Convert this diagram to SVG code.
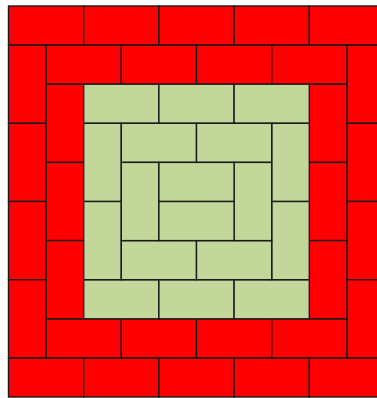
<svg xmlns="http://www.w3.org/2000/svg" width="377" height="398" viewBox="0 0 377 398">
<style>
.r{fill:#ff0000;stroke:#1a1a1a;stroke-width:1.4}
.g{fill:#c4d79b;stroke:#1a1a1a;stroke-width:1.4}
</style>
<rect width="377" height="398" fill="#ffffff"/>
<g id="ring0" class="ring">
<rect class="r" x="8.5" y="6" width="75.2" height="39.1"/>
<rect class="r" x="83.7" y="6" width="75.2" height="39.1"/>
<rect class="r" x="158.9" y="6" width="75.2" height="39.1"/>
<rect class="r" x="234.1" y="6" width="75.2" height="39.1"/>
<rect class="r" x="309.3" y="6" width="75.2" height="39.1"/>
<rect class="r" x="8.5" y="357.9" width="75.2" height="39.1"/>
<rect class="r" x="83.7" y="357.9" width="75.2" height="39.1"/>
<rect class="r" x="158.9" y="357.9" width="75.2" height="39.1"/>
<rect class="r" x="234.1" y="357.9" width="75.2" height="39.1"/>
<rect class="r" x="309.3" y="357.9" width="75.2" height="39.1"/>
<rect class="r" x="8.5" y="45.1" width="37.6" height="78.2"/>
<rect class="r" x="8.5" y="123.3" width="37.6" height="78.2"/>
<rect class="r" x="8.5" y="201.5" width="37.6" height="78.2"/>
<rect class="r" x="8.5" y="279.7" width="37.6" height="78.2"/>
<rect class="r" x="346.9" y="45.1" width="37.6" height="78.2"/>
<rect class="r" x="346.9" y="123.3" width="37.6" height="78.2"/>
<rect class="r" x="346.9" y="201.5" width="37.6" height="78.2"/>
<rect class="r" x="346.9" y="279.7" width="37.6" height="78.2"/>
</g>
<g id="ring1" class="ring">
<rect class="r" x="46.1" y="45.1" width="75.2" height="39.1"/>
<rect class="r" x="121.3" y="45.1" width="75.2" height="39.1"/>
<rect class="r" x="196.5" y="45.1" width="75.2" height="39.1"/>
<rect class="r" x="271.7" y="45.1" width="75.2" height="39.1"/>
<rect class="r" x="46.1" y="318.8" width="75.2" height="39.1"/>
<rect class="r" x="121.3" y="318.8" width="75.2" height="39.1"/>
<rect class="r" x="196.5" y="318.8" width="75.2" height="39.1"/>
<rect class="r" x="271.7" y="318.8" width="75.2" height="39.1"/>
<rect class="r" x="46.1" y="84.2" width="37.6" height="78.2"/>
<rect class="r" x="46.1" y="162.4" width="37.6" height="78.2"/>
<rect class="r" x="46.1" y="240.6" width="37.6" height="78.2"/>
<rect class="r" x="309.3" y="84.2" width="37.6" height="78.2"/>
<rect class="r" x="309.3" y="162.4" width="37.6" height="78.2"/>
<rect class="r" x="309.3" y="240.6" width="37.6" height="78.2"/>
</g>
<g id="ring2" class="ring">
<rect class="g" x="83.7" y="84.2" width="75.2" height="39.1"/>
<rect class="g" x="158.9" y="84.2" width="75.2" height="39.1"/>
<rect class="g" x="234.1" y="84.2" width="75.2" height="39.1"/>
<rect class="g" x="83.7" y="279.7" width="75.2" height="39.1"/>
<rect class="g" x="158.9" y="279.7" width="75.2" height="39.1"/>
<rect class="g" x="234.1" y="279.7" width="75.2" height="39.1"/>
<rect class="g" x="83.7" y="123.3" width="37.6" height="78.2"/>
<rect class="g" x="83.7" y="201.5" width="37.6" height="78.2"/>
<rect class="g" x="271.7" y="123.3" width="37.6" height="78.2"/>
<rect class="g" x="271.7" y="201.5" width="37.6" height="78.2"/>
</g>
<g id="ring3" class="ring">
<rect class="g" x="121.3" y="123.3" width="75.2" height="39.1"/>
<rect class="g" x="196.5" y="123.3" width="75.2" height="39.1"/>
<rect class="g" x="121.3" y="240.6" width="75.2" height="39.1"/>
<rect class="g" x="196.5" y="240.6" width="75.2" height="39.1"/>
<rect class="g" x="121.3" y="162.4" width="37.6" height="78.2"/>
<rect class="g" x="234.1" y="162.4" width="37.6" height="78.2"/>
</g>
<g id="center" class="ring">
<rect class="g" x="158.9" y="162.4" width="75.2" height="39.1"/>
<rect class="g" x="158.9" y="201.5" width="75.2" height="39.1"/>
</g>
</svg>
